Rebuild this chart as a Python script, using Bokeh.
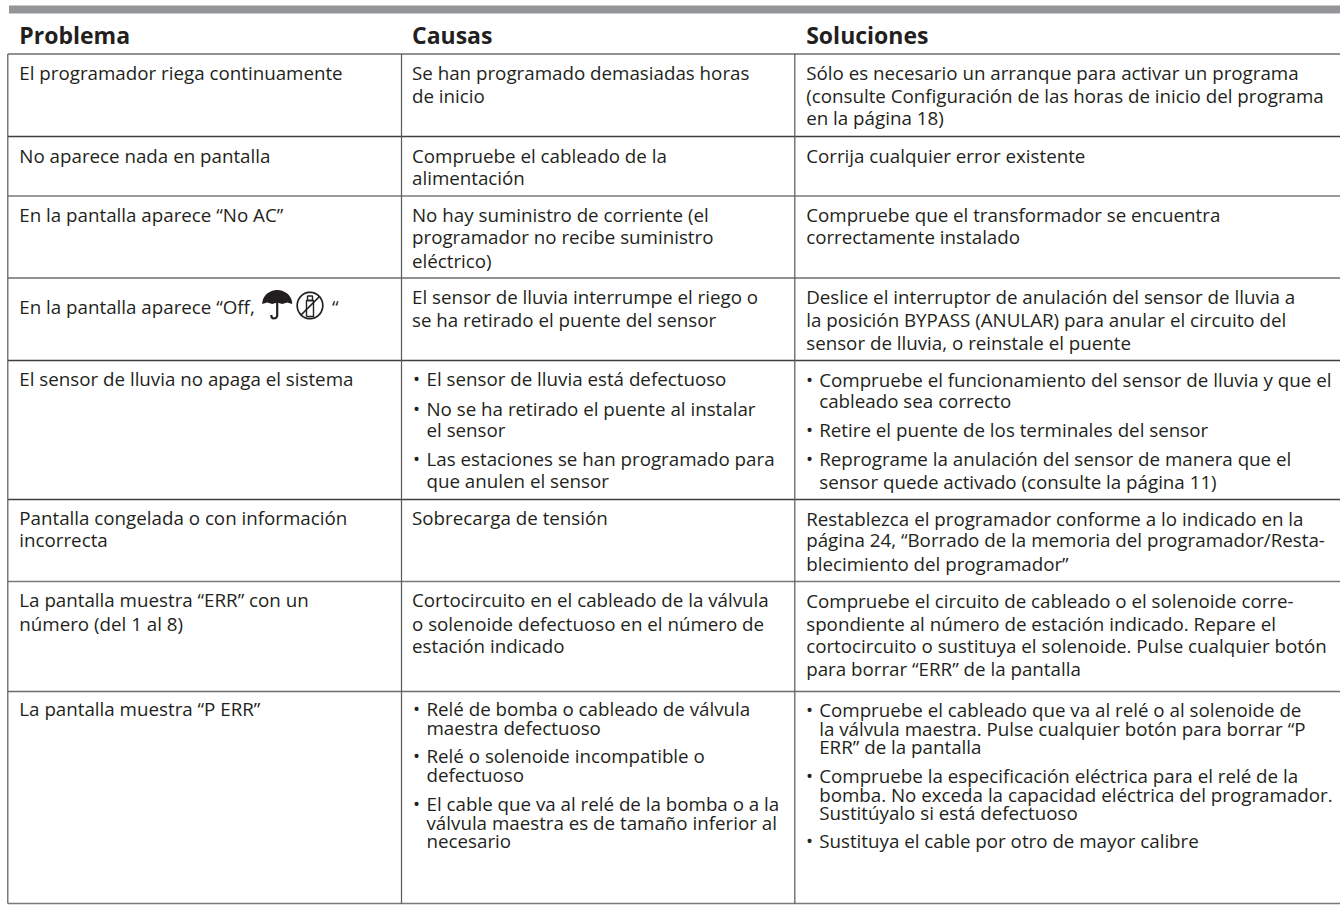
import numpy as np
from bokeh.plotting import figure
from bokeh.models import Range1d
from bokeh.core.properties import value
from bokeh.embed import file_html
from bokeh.resources import INLINE

headers = ["Problema", "Causas", "Soluciones"]

problemas = [
    (80, 0, "El programador riega continuamente"),
    (162.7, 0, "No aparece nada en pantalla"),
    (221.7, 0, "En la pantalla aparece “No AC”"),
    (314, 0, "En la pantalla aparece “Off,"),
    (386, 0, "El sensor de lluvia no apaga el sistema"),
    (525, 0, "Pantalla congelada o con información"),
    (546.7, 0, "incorrecta"),
    (607.3, 0, "La pantalla muestra “ERR” con un"),
    (630.7, 0, "número (del 1 al 8)"),
    (716, 0, "La pantalla muestra “P ERR”"),
]

causas = [
    (80, 0, "Se han programado demasiadas horas"),
    (102.7, 0, "de inicio"),
    (162.7, 0, "Compruebe el cableado de la"),
    (185, 0, "alimentación"),
    (221.7, 0, "No hay suministro de corriente (el"),
    (244.3, 0, "programador no recibe suministro"),
    (267.7, 0, "eléctrico)"),
    (303.5, 0, "El sensor de lluvia interrumpe el riego o"),
    (326.5, 0, "se ha retirado el puente del sensor"),
    (386, 1, "El sensor de lluvia está defectuoso"),
    (416, 1, "No se ha retirado el puente al instalar"),
    (437.3, 2, "el sensor"),
    (466, 1, "Las estaciones se han programado para"),
    (487.7, 2, "que anulen el sensor"),
    (525, 0, "Sobrecarga de tensión"),
    (607.3, 0, "Cortocircuito en el cableado de la válvula"),
    (630.7, 0, "o solenoide defectuoso en el número de"),
    (652.7, 0, "estación indicado"),
    (716, 1, "Relé de bomba o cableado de válvula"),
    (735, 2, "maestra defectuoso"),
    (763.3, 1, "Relé o solenoide incompatible o"),
    (782.3, 2, "defectuoso"),
    (810.7, 1, "El cable que va al relé de la bomba o a la"),
    (830, 2, "válvula maestra es de tamaño inferior al"),
    (847.7, 2, "necesario"),
]

soluciones = [
    (80, 0, "Sólo es necesario un arranque para activar un programa"),
    (102.7, 0, "(consulte Configuración de las horas de inicio del programa"),
    (125.3, 0, "en la página 18)"),
    (162.7, 0, "Corrija cualquier error existente"),
    (221.7, 0, "Compruebe que el transformador se encuentra"),
    (244.3, 0, "correctamente instalado"),
    (304, 0, "Deslice el interruptor de anulación del sensor de lluvia a"),
    (327.3, 0, "la posición BYPASS (ANULAR) para anular el circuito del"),
    (350, 0, "sensor de lluvia, o reinstale el puente"),
    (386.7, 1, "Compruebe el funcionamiento del sensor de lluvia y que el"),
    (408.3, 2, "cableado sea correcto"),
    (437.3, 1, "Retire el puente de los terminales del sensor"),
    (466, 1, "Reprograme la anulación del sensor de manera que el"),
    (489, 2, "sensor quede activado (consulte la página 11)"),
    (525.7, 0, "Restablezca el programador conforme a lo indicado en la"),
    (547.3, 0, "página 24, “Borrado de la memoria del programador/Resta-"),
    (570.7, 0, "blecimiento del programador”"),
    (608, 0, "Compruebe el circuito de cableado o el solenoide corre-"),
    (630.7, 0, "spondiente al número de estación indicado. Repare el"),
    (652.7, 0, "cortocircuito o sustituya el solenoide. Pulse cualquier botón"),
    (676, 0, "para borrar “ERR” de la pantalla"),
    (716.7, 1, "Compruebe el cableado que va al relé o al solenoide de"),
    (735.7, 2, "la válvula maestra. Pulse cualquier botón para borrar “P"),
    (754.3, 2, "ERR” de la pantalla"),
    (782.7, 1, "Compruebe la especificación eléctrica para el relé de la"),
    (801.7, 2, "bomba. No exceda la capacidad eléctrica del programador."),
    (820, 2, "Sustitúyalo si está defectuoso"),
    (847.7, 1, "Sustituya el cable por otro de mayor calibre"),
]

# layout
FONT = "Open Sans"
BODY = "18.75px"
HEAD = "23px"
BODY_OFF = -8
HEAD_OFF = -8
TEXTC = "#231f20"
col_x = [18.8, 411.5, 805.7]
col_indent = [0, 14.5, 13]
bullet_x = [0, 412.4, 805.4]
col_rule = [7.3, 401, 794.3]
rule_y = [53.5, 136, 195.5, 277.5, 360, 499, 581, 691, 903]
rule_c = ["#6d6e71", "#3f3f42", "#77787b", "#6d6e71", "#3f3f42", "#3f3f42", "#77787b", "#6d6e71", "#77787b"]

p = figure(width=1340, height=905, x_range=Range1d(0, 1340), y_range=Range1d(905, 0),
           output_backend="svg", toolbar_location=None, min_border=0,
           background_fill_color="white",
           border_fill_color="white", outline_line_color=None)
p.axis.visible = False
p.grid.visible = False

p.quad(left=[8.5], right=[1340], top=[5], bottom=[13], fill_color="#939598", line_color=None)

p.segment(x0=[col_rule[0]] * len(rule_y), x1=[1340] * len(rule_y), y0=rule_y, y1=rule_y,
          line_color=rule_c, line_width=1.3)
p.segment(x0=col_rule, x1=col_rule, y0=[rule_y[0]] * 3, y1=[rule_y[-1]] * 3,
          line_color="#58595b", line_width=1.2)

p.text(x=col_x, y=[42.7] * 3, text=headers, text_font=value(FONT), text_font_size=HEAD,
       text_font_style="bold", text_color=TEXTC, text_baseline="alphabetic", y_offset=HEAD_OFF)

for cx, ind, bx, rows in zip(col_x, col_indent, bullet_x, (problemas, causas, soluciones)):
    xs = [cx + (ind if r[1] else 0) for r in rows]
    p.text(x=xs, y=[r[0] for r in rows], text=[r[2] for r in rows],
           text_font=value(FONT), text_font_size=BODY, text_color=TEXTC,
           text_baseline="alphabetic", y_offset=BODY_OFF)
    bul = [r[0] for r in rows if r[1] == 1]
    if bul:
        p.text(x=[bx] * len(bul), y=bul, text=["•"] * len(bul), text_font=value(FONT),
               text_font_size=BODY, text_color=TEXTC, text_baseline="alphabetic", y_offset=BODY_OFF)

p.text(x=[331.5], y=[314], text=["“"], text_font=value(FONT), text_font_size=BODY,
       text_color=TEXTC, text_baseline="alphabetic", y_offset=BODY_OFF)

# umbrella icon
t = np.linspace(np.pi, 0, 30)
ux = 276.7 + 15 * np.cos(t)
uy = 303.5 - 14 * np.sin(t)
p.patch(x=list(ux) + [291.7, 286.7, 281.7, 276.7, 271.7, 266.7, 261.7],
        y=list(uy) + [303.5, 302, 303.5, 302, 303.5, 302, 303.5],
        fill_color=TEXTC, line_color=None)
p.line(x=[276.7, 276.7, 275.5, 273, 271.2, 270.7], y=[300, 315.5, 317.5, 318, 317, 314.5],
       line_color=TEXTC, line_width=2.2)

# no-spray icon
t = np.linspace(0, 2 * np.pi, 60)
p.line(x=309.5 + 12.8 * np.cos(t), y=305 + 13.2 * np.sin(t), line_color=TEXTC, line_width=1.7)
p.line(x=[306, 306, 313, 313, 306], y=[316, 300, 300, 316, 316], line_color=TEXTC, line_width=1.4)
p.line(x=[307, 307, 312, 312, 307], y=[300, 295.5, 295.5, 300, 300], line_color=TEXTC, line_width=1.4)
p.line(x=[319, 300], y=[296, 315], line_color=TEXTC, line_width=1.7)

open("out.html", "w").write(file_html(p, INLINE))
